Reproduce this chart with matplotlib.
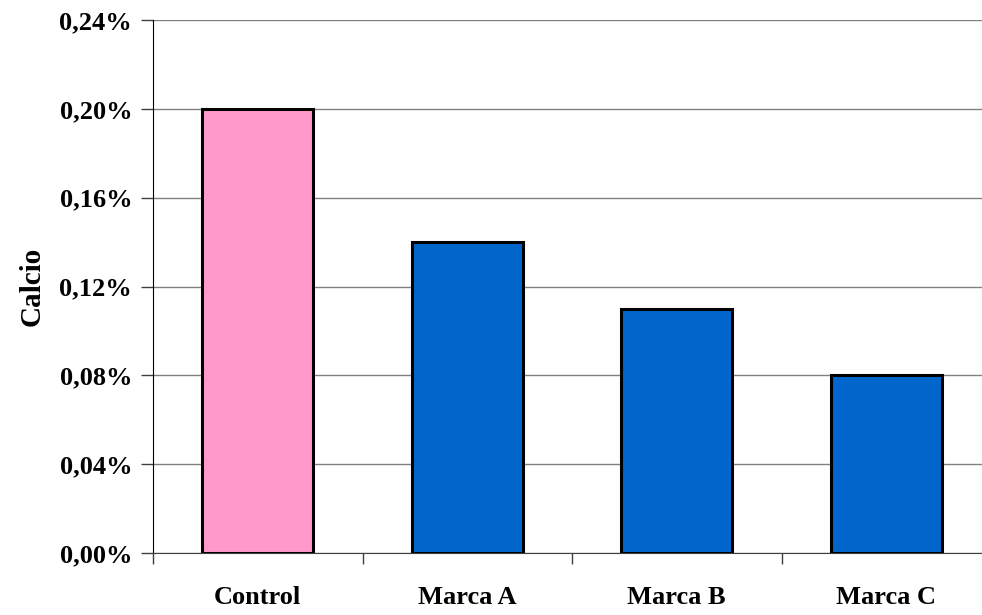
import matplotlib
matplotlib.use("Agg")
import matplotlib.pyplot as plt
from matplotlib.ticker import FuncFormatter, FixedLocator

categorias = ["Control", "Marca A", "Marca B", "Marca C"]
calcio = [0.20, 0.14, 0.11, 0.08]
colores = ["#FF99CC", "#0066CC", "#0066CC", "#0066CC"]
y_ticks = [0.00, 0.04, 0.08, 0.12, 0.16, 0.20, 0.24]

plt.rcParams["font.family"] = ["Liberation Serif", "DejaVu Serif"]
plt.rcParams["font.weight"] = "bold"

fig = plt.figure(figsize=(9.82, 6.15), dpi=100)
# el eje continua un poco mas alla del borde derecho
ax = fig.add_axes([153 / 982, 62 / 615, 838 / 982, 533 / 615])

x = range(len(categorias))
ax.bar(x, calcio, width=0.53, color=colores, edgecolor="black", linewidth=2.2, zorder=3)

ax.set_xlim(-0.5, len(categorias) - 0.5)
ax.set_ylim(0, 0.24)
ax.set_yticks(y_ticks)
ax.yaxis.set_major_formatter(FuncFormatter(lambda v, p: ("%.2f%%" % v).replace(".", ",")))
ax.yaxis.grid(True, color="#808080", linewidth=1, zorder=0)

ax.set_xticks(list(x))
ax.set_xticklabels(categorias)
ax.xaxis.set_minor_locator(FixedLocator([i - 0.5 for i in range(len(categorias) + 1)]))
ax.tick_params(axis="x", which="major", length=0, pad=24, labelsize=19)
ax.tick_params(axis="x", which="minor", length=8, width=1, color="#404040")
ax.tick_params(axis="y", length=9, width=1, color="#404040", labelsize=19, pad=6)

for s in ["top", "right"]:
    ax.spines[s].set_visible(False)
ax.spines["left"].set_color("black")
ax.spines["bottom"].set_color("#404040")
ax.spines["bottom"].set_zorder(4)

ax.set_ylabel("Calcio", fontsize=21, fontweight="bold", labelpad=10)

fig.savefig("out.png", dpi=100)
